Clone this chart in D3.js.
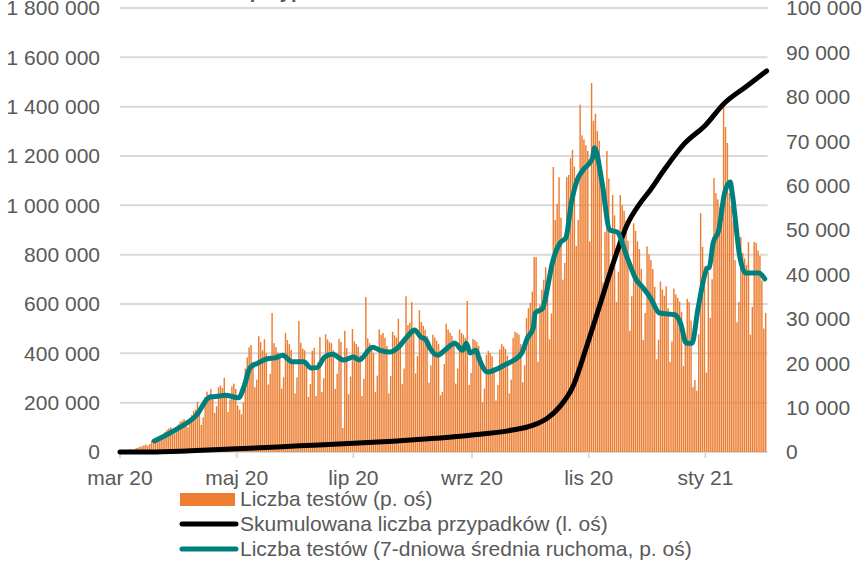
<!DOCTYPE html>
<html>
<head>
<meta charset="utf-8">
<script src="https://cdn.jsdelivr.net/npm/d3@7"></script>
<style>
  body { margin: 0; background: #fff; }
  svg { display: block; font-family: "Liberation Sans", Arial, sans-serif; }
</style>
</head>
<body>
<svg id="chart"></svg>
<script>
var width = 864;
var height = 563;

// first day of the daily series
var startDay = Date.UTC(2020, 2, 1);

// daily number of tests (right axis), from 1 March 2020
var tests = [
  200,300,400,500,500,600,500,
  600,900,1000,1200,1300,1500,1700,
  1400,1800,2600,2900,3200,3400,3000,
  3000,3300,4500,5000,5300,5600,4800,
  4200,4900,6200,6800,7000,7400,6200,
  5600,6500,8300,9200,9600,11300,8800,
  6100,7800,12400,13600,12900,14200,12600,
  8800,10300,14600,15000,14400,16700,13000,
  9000,11800,14800,15400,14200,10500,9500,
  8500,11200,18800,21300,23600,24100,20300,
  14600,16300,26100,24800,22900,25400,22200,
  15200,17600,31300,24500,23600,22400,21700,
  14300,16800,26800,25200,24300,23000,20700,
  13200,16800,29500,24600,23300,22900,20100,
  12400,15300,22800,23500,12600,20200,25900,
  13500,16600,26500,25400,24800,24500,22900,
  14200,17600,25500,24800,5400,27300,23400,
  13000,17000,27700,24900,24300,23700,21800,
  12600,16500,34900,25600,24500,24000,22300,
  13500,17200,27600,26400,26800,25700,23900,
  13200,17100,27100,26300,25800,30000,24200,
  15300,18800,35100,28600,29100,33800,27800,
  17700,21600,31900,29300,28400,27500,26100,
  15600,19500,26400,25800,25100,24300,12800,
  13500,19800,28900,27600,26900,26200,25100,
  15400,18800,27600,26800,26400,25700,34000,
  15100,17800,25500,25200,24800,23900,21500,
  11200,14300,21900,22800,22300,21600,19100,
  11600,15100,23100,24300,23800,23200,21700,
  13200,16300,25700,27100,26800,26400,24300,
  15700,19500,30200,32400,33600,36100,43900,
  43900,20300,33200,36500,38800,41600,37100,
  25400,31200,64200,52300,55900,61900,52800,
  38800,42600,61900,62400,66200,68000,64300,
  46400,52300,78200,71300,70400,69100,67800,
  47400,83100,74600,76200,72300,70100,63400,
  38200,49500,67800,61600,40800,57900,53300,
  33800,40600,57900,55600,54300,52100,47600,
  27300,35100,51500,49800,47400,45700,41200,
  25200,31300,46300,44500,43200,41200,37200,
  20900,25300,38400,36600,35200,37300,32400,
  20300,24900,36800,35500,34700,33900,31500,
  19400,24300,34500,33800,29600,14600,16200,
  13800,26500,53800,46200,41800,17900,40600,
  30200,38900,61700,58300,56900,55100,51200,
  77700,73200,69600,58300,55400,52100,43200,
  29200,33800,48400,44800,43600,42100,47300,
  26400,32700,47300,47100,45400,44200,38600,
  27800,31300
];

// 7-day moving average of tests (right axis): day offset / value
var avgDays = [18,29,40,47,52,55,62,65,68,72,77,81,85,90,96,100,103,107,111,117,
  122,125,132,136,141,145,150,154,157,160,162,166,170,175,179,181,183,186,188,192,
  196,201,206,210,213,216,217,221,223,226,230,233,236,239,242,247,248,252,256,260,
  265,270,273,277,282,290,293,296,299,302,307,308,310,313,316,319,320,324,327,332,
  334,337];
var avgValues = [2500,5000,8300,12400,12600,12800,12200,15000,19000,20000,
  21000,21200,21800,20300,20300,18900,19000,21400,22000,20700,
  21400,20700,23600,22900,22500,23400,25900,27500,26000,25200,
  23400,21800,23000,24500,22900,24500,22300,22900,20700,18000,
  18500,19600,20700,22300,25700,27900,31300,32400,36000,42600,
  47100,48200,56300,61300,63500,66200,68500,60600,50000,49500,
  43900,38700,37200,34900,31300,30900,29000,24500,24500,32000,
  41400,41600,47000,50000,58300,60800,58300,43900,40300,40300,
  40300,39000];

// cumulative number of cases (left axis): day offset / value
var cumDays = [0,16,37,61,94,122,145,183,205,216,223,230,237,244,251,258,265,272,277,285,295,306,316,327,338];
var cumValues = [0,0,5000,13000,25000,35000,45000,68000,89000,109000,135000,185000,270000,430000,
  600000,770000,920000,1010000,1060000,1150000,1250000,1325000,1415000,1480000,1545000];

var tickMonths = [[2020, 2], [2020, 4], [2020, 6], [2020, 8], [2020, 10], [2021, 0]];
var tickLabels = ["mar 20", "maj 20", "lip 20", "wrz 20", "lis 20", "sty 21"];

var legendLabels = [
  "Liczba testów (p. oś)",
  "Skumulowana liczba przypadków (l. oś)",
  "Liczba testów (7-dniowa średnia ruchoma, p. oś)"
];

var orange = "#ed7d31", teal = "#00807d", grey = "#595959";
var fs = 21;

function dayDate(d) { return new Date(startDay + d * 864e5); }

var svg = d3.select("#chart").attr("width", width).attr("height", height);

var x = d3.scaleUtc()
    .domain([dayDate(0), dayDate(338.5)])
    .range([120, 767.6]);
var yLeft = d3.scaleLinear().domain([0, 1800000]).range([452, 8]);
var yRight = d3.scaleLinear().domain([0, 100000]).range([452, 8]);

var pl = d3.formatLocale({decimal: ",", thousands: "\u00a0", grouping: [3], currency: ["", " zł"]});
var fmt = pl.format(",");

// title (cut off at the top of the picture, only descenders show)
svg.append("text")
    .attr("x", 182).attr("y", -2)
    .attr("font-weight", "bold")
    .attr("font-size", 20)
    .attr("fill", grey)
    .text("Liczba przypadków i testów w Polsce");

// gridlines
svg.append("g").selectAll("line")
    .data(yLeft.ticks(9))
    .enter().append("line")
    .attr("x1", 120).attr("x2", 767.6)
    .attr("y1", function(d) { return yLeft(d); })
    .attr("y2", function(d) { return yLeft(d); })
    .attr("stroke", "#d9d9d9")
    .attr("stroke-width", 2);

// bars
var bw = (x(dayDate(1)) - x(dayDate(0))) * 0.75;
svg.append("g").selectAll("rect")
    .data(tests)
    .enter().append("rect")
    .attr("x", function(d, i) { return x(dayDate(i + 0.5)) - bw / 2; })
    .attr("y", function(d) { return yRight(d); })
    .attr("width", bw)
    .attr("height", function(d) { return 452 - yRight(d); })
    .attr("fill", orange);

// x axis ticks
var tickDates = tickMonths.map(function(m) { return new Date(Date.UTC(m[0], m[1], 1)); });
svg.append("g").selectAll("line")
    .data(tickDates)
    .enter().append("line")
    .attr("x1", function(d) { return x(d); })
    .attr("x2", function(d) { return x(d); })
    .attr("y1", 452).attr("y2", 458)
    .attr("stroke", "#d9d9d9")
    .attr("stroke-width", 2);

svg.append("g").selectAll("text")
    .data(tickDates)
    .enter().append("text")
    .attr("x", function(d) { return x(d); })
    .attr("y", 478)
    .attr("dy", "0.35em")
    .attr("text-anchor", "middle")
    .attr("font-size", fs)
    .attr("fill", grey)
    .text(function(d, i) { return tickLabels[i]; });

// cumulative cases line
var cumLine = d3.line()
    .x(function(d) { return x(dayDate(d[0])); })
    .y(function(d) { return yLeft(d[1]); })
    .curve(d3.curveMonotoneX);
svg.append("path")
    .datum(d3.zip(cumDays, cumValues))
    .attr("d", cumLine)
    .attr("fill", "none")
    .attr("stroke", "#000")
    .attr("stroke-width", 5)
    .attr("stroke-linejoin", "round")
    .attr("stroke-linecap", "round");

// 7-day average line
var avgLine = d3.line()
    .x(function(d) { return x(dayDate(d[0])); })
    .y(function(d) { return yRight(d[1]); })
    .curve(d3.curveMonotoneX);
svg.append("path")
    .datum(d3.zip(avgDays, avgValues))
    .attr("d", avgLine)
    .attr("fill", "none")
    .attr("stroke", teal)
    .attr("stroke-width", 5)
    .attr("stroke-linejoin", "round")
    .attr("stroke-linecap", "round");

// left axis labels
svg.append("g").selectAll("text")
    .data(yLeft.ticks(9))
    .enter().append("text")
    .attr("x", 100)
    .attr("y", function(d) { return yLeft(d); })
    .attr("dy", "0.35em")
    .attr("text-anchor", "end")
    .attr("font-size", fs)
    .attr("fill", grey)
    .text(function(d) { return fmt(d); });

// right axis labels
svg.append("g").selectAll("text")
    .data(yRight.ticks(10))
    .enter().append("text")
    .attr("x", 786)
    .attr("y", function(d) { return yRight(d); })
    .attr("dy", "0.35em")
    .attr("font-size", fs)
    .attr("fill", grey)
    .text(function(d) { return fmt(d); });

// legend
var legend = svg.append("g");
legend.append("rect")
    .attr("x", 180).attr("y", 493).attr("width", 55).attr("height", 13)
    .attr("fill", orange);
legend.append("line")
    .attr("x1", 182).attr("x2", 236).attr("y1", 524).attr("y2", 524)
    .attr("stroke", "#000").attr("stroke-width", 5).attr("stroke-linecap", "round");
legend.append("line")
    .attr("x1", 182).attr("x2", 236).attr("y1", 549).attr("y2", 549)
    .attr("stroke", teal).attr("stroke-width", 5).attr("stroke-linecap", "round");
legend.selectAll("text")
    .data(legendLabels)
    .enter().append("text")
    .attr("x", 240)
    .attr("y", function(d, i) { return 499 + i * 25; })
    .attr("dy", "0.35em")
    .attr("font-size", fs)
    .attr("fill", grey)
    .text(function(d) { return d; });
</script>
</body>
</html>
